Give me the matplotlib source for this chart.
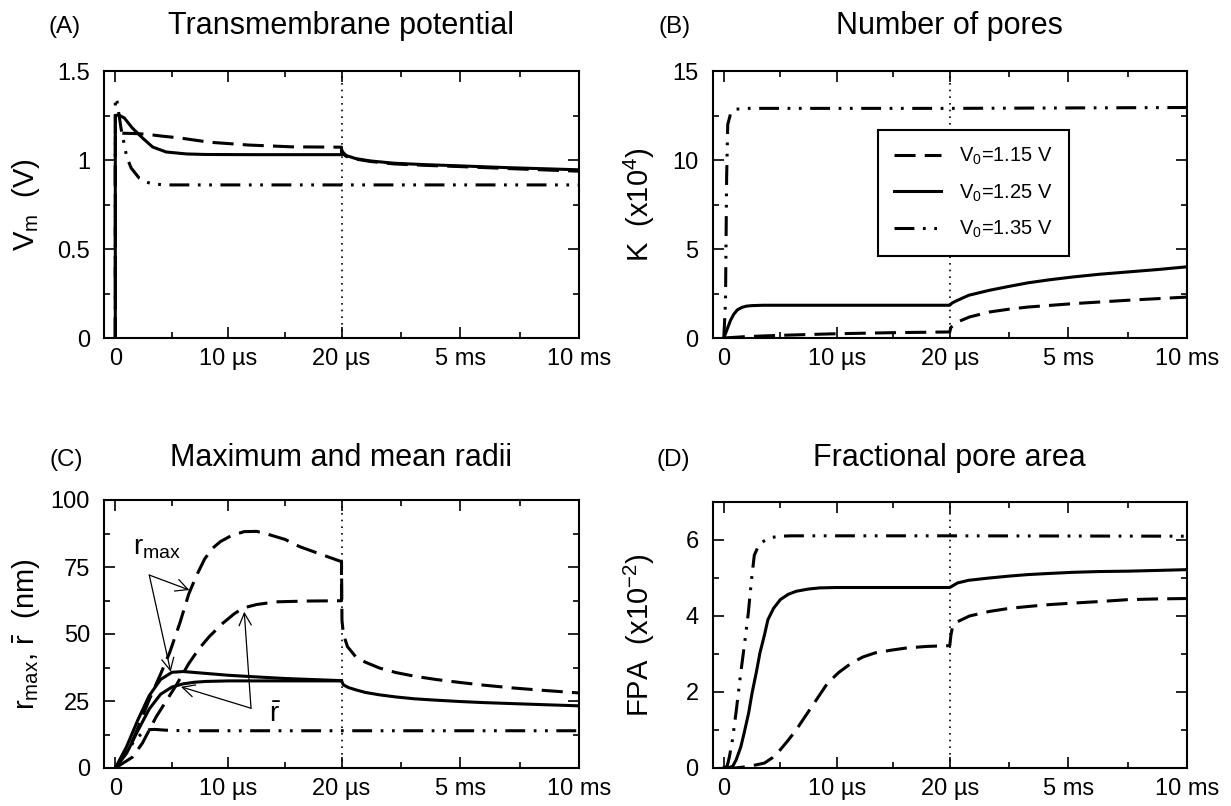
import numpy as np
import matplotlib
matplotlib.use("Agg")
import matplotlib.pyplot as plt

plt.rcParams["font.family"] = "Liberation Sans"
plt.rcParams["mathtext.fontset"] = "custom"
plt.rcParams["mathtext.rm"] = "Liberation Sans"
plt.rcParams["mathtext.it"] = "Liberation Sans:italic"
plt.rcParams["mathtext.bf"] = "Liberation Sans:bold"

## data : pulse part in microseconds, after the pulse in ms (from end of pulse)
# (A) transmembrane potential (V)
a115_t = [0, 0, 0.5, 1, 2, 3, 4, 5.7, 8.3, 11.8, 15.6, 20]
a115_v = [0, 1.15, 1.15, 1.15, 1.148, 1.143, 1.135, 1.124, 1.10, 1.084, 1.074, 1.072]
a115_ms = [0, 0.05, 0.2, 0.6, 1.2, 2.2, 3.5, 5, 7, 10]
a115_vp = [1.05, 1.035, 1.02, 1.005, 0.992, 0.978, 0.97, 0.963, 0.952, 0.937]

a125_t = [0, 0, 0.3, 0.8, 1.5, 2.4, 3.3, 4.5, 6.3, 8, 12, 20]
a125_v = [0, 1.25, 1.253, 1.236, 1.18, 1.124, 1.073, 1.045, 1.034, 1.031, 1.03, 1.03]
a125_ms = [0, 0.05, 0.2, 0.6, 1.2, 2.2, 3.5, 5, 7, 10]
a125_vp = [1.06, 1.045, 1.025, 1.008, 0.995, 0.982, 0.974, 0.967, 0.957, 0.945]

a135_t = [0, 0, 0.15, 0.5, 1.0, 1.4, 2.1, 2.8, 3.3, 4.5, 20]
a135_v = [0, 1.35, 1.33, 1.18, 1.02, 0.955, 0.899, 0.875, 0.865, 0.86, 0.86]
a135_ms = [0, 10]
a135_vp = [0.86, 0.86]

# (B) number of pores (x10^4)
b115_t = [0, 2, 5, 10, 15, 20]
b115_v = [0, 0.08, 0.15, 0.24, 0.3, 0.34]
b115_ms = [0, 0.05, 0.33, 0.83, 1.67, 2.5, 3.3, 5.2, 7.5, 10]
b115_vp = [0.34, 0.6, 0.9, 1.18, 1.46, 1.62, 1.74, 1.93, 2.12, 2.3]

b125_t = [0, 0.3, 0.6, 0.9, 1.2, 1.6, 2.0, 2.5, 3.5, 5, 10, 20]
b125_v = [0, 0.5, 1.0, 1.35, 1.58, 1.72, 1.79, 1.82, 1.84, 1.84, 1.84, 1.84]
b125_ms = [0, 0.1, 0.33, 0.8, 1.67, 2.5, 3.3, 4.2, 5.2, 6.3, 7.5, 8.8, 10]
b125_vp = [1.84, 1.97, 2.12, 2.4, 2.68, 2.9, 3.1, 3.27, 3.43, 3.58, 3.71, 3.85, 4.0]

b135_t = [0, 0.15, 0.25, 0.35, 0.6, 1.0, 2, 20]
b135_v = [0, 2, 9, 12.0, 12.6, 12.85, 12.9, 12.9]
b135_ms = [0, 10]
b135_vp = [12.9, 12.95]

# (C) maximum and mean radii (nm)
c115max_t = [0, 1.3, 2.0, 3.0, 4.0, 4.8, 5.7, 6.5, 7.2, 7.9, 8.6, 9.3, 10.3, 11.4,
             12.5, 13.5, 15, 16.3, 18, 20]
c115max_v = [0, 8, 15, 25.5, 35, 43, 54, 65, 72, 78, 82, 84.5, 86.8, 88.2,
             88.3, 87.2, 85.3, 82.6, 80, 77]
c115mean_t = [0, 1.5, 2.4, 3.6, 4.5, 5.4, 6.5, 7.4, 8.3, 9.5, 10.5, 11.3, 12.5, 14.2, 17, 20]
c115mean_v = [0, 4, 9.3, 19, 25, 31, 39, 44.5, 49, 54, 57.5, 59.7, 61, 62, 62.3, 62.4]
c115_ms = [0, 0.02, 0.08, 0.25, 0.59, 1.0, 1.6, 2.3, 3.1, 4, 5, 6, 7.3, 8.6, 10]
c115_vp = [77, 55, 50, 45.3, 41.6, 39.5, 37.3, 35.6, 34.2, 33, 31.9, 30.9, 29.8, 28.9, 28]

c125max_t = [0, 1, 2, 3, 4, 5, 6, 8, 10, 12, 15, 20]
c125max_v = [0, 8, 18, 27, 33, 35.7, 36, 35.3, 34.6, 34.1, 33.4, 32.6]
c125mean_t = [0, 1, 2, 3, 4, 5, 6, 7, 8, 10, 14, 20]
c125mean_v = [0, 5.5, 14, 22, 27.5, 30.2, 31.4, 32, 32.3, 32.5, 32.5, 32.5]
c125_ms = [0, 0.08, 0.3, 0.59, 1.0, 1.6, 2.3, 3.1, 4, 5, 6, 7.3, 8.6, 10]
c125_vp = [32.6, 31, 30, 29.2, 28.2, 27.3, 26.5, 25.8, 25.3, 24.8, 24.4, 24, 23.6, 23.2]

c135_t = [0, 1, 1.5, 2, 2.5, 3, 3.5, 4.5, 6, 20]
c135_v = [0, 6, 9, 11.5, 13.5, 14.3, 14.4, 14.1, 13.9, 13.9]
c135_ms = [0, 10]
c135_vp = [13.9, 13.9]

# (D) fractional pore area (x10^-2)
d115_t = [0, 1, 2.2, 3.6, 4.3, 5.0, 5.7, 6.4, 7.1, 7.8, 8.5, 9.2, 10.2, 11.3, 12.3,
          13.4, 14.8, 16.2, 18, 20]
d115_v = [0, 0, 0.04, 0.13, 0.27, 0.48, 0.73, 1.0, 1.31, 1.62, 1.93, 2.24, 2.52, 2.76,
          2.92, 3.03, 3.1, 3.16, 3.2, 3.22]
d115_ms = [0, 0.05, 0.12, 0.33, 0.83, 1.67, 2.5, 3.3, 4.2, 5.2, 6.3, 7.5, 8.8, 10]
d115_vp = [3.22, 3.5, 3.73, 3.85, 4.0, 4.12, 4.2, 4.25, 4.3, 4.34, 4.38, 4.43, 4.45, 4.46]

d125_t = [0, 0.4, 0.8, 1.1, 1.5, 1.8, 2.2, 2.5, 2.9, 3.2, 3.6, 3.9, 4.4, 5.0, 5.7,
          6.4, 7.5, 8.5, 10, 20]
d125_v = [0, 0, 0.05, 0.22, 0.55, 0.92, 1.45, 1.97, 2.55, 3.03, 3.5, 3.9, 4.2, 4.43,
          4.57, 4.65, 4.71, 4.74, 4.75, 4.75]
d125_ms = [0, 0.33, 0.8, 1.67, 2.5, 3.3, 4.2, 5.2, 6.3, 7.5, 8.8, 10]
d125_vp = [4.75, 4.87, 4.94, 5.0, 5.05, 5.09, 5.12, 5.15, 5.17, 5.18, 5.2, 5.22]

d135_t = [0, 0.3, 0.5, 0.77, 1.1, 1.5, 1.85, 2.17, 2.45, 2.7, 3.0, 3.3, 3.8, 4.3, 5, 6, 20]
d135_v = [0, 0.05, 0.3, 0.75, 1.5, 2.5, 3.3, 4.08, 4.95, 5.6, 5.8, 5.92, 6.02, 6.07,
          6.1, 6.11, 6.11]
d135_ms = [0, 10]
d135_vp = [6.11, 6.1]

xticks = [0, 10, 20, 5020, 10020]
xticklabels = ["0", "10 \u00b5s", "20 \u00b5s", "5 ms", "10 ms"]
legend_labels = ["V$_\\mathrm{0}$=1.15 V", "V$_\\mathrm{0}$=1.25 V", "V$_\\mathrm{0}$=1.35 V"]

## styles
LW = 2.2
DASH = (0, (6.9, 3.0))
DASHDOT = (0, (6.5, 2.8, 0.9, 2.8, 0.9, 2.8))
SOLID = "-"


def post(ms):  # time after the pulse -> microseconds
    return 20 + np.asarray(ms, float) * 1000


def fwd(t):  # broken axis : 0-20 us then 20 us - 10 ms, same width
    t = np.asarray(t, float)
    return np.where(t <= 20, (t + 1) / 21.0, 1 + (t - 20) / 10000.0)


def inv(x):
    x = np.asarray(x, float)
    return np.where(x <= 1, x * 21 - 1, 20 + (x - 1) * 10000)


W, H = 1231, 806
fig = plt.figure(figsize=(W / 100, H / 100), dpi=100)


def make_ax(l, r, top, bot):
    return fig.add_axes([l / W, 1 - bot / H, (r - l) / W, (bot - top) / H])


axA = make_ax(104, 579, 71, 338)
axB = make_ax(712.5, 1187, 71, 338)
axC = make_ax(104, 579, 500, 768)
axD = make_ax(712.5, 1187, 502, 768)


def style(ax, ymax, ymajor, yminor, ylabel, labx):
    ax.set_xscale("function", functions=(fwd, inv))
    ax.set_xlim(-1, 10020)
    ax.set_ylim(0, ymax)
    ax.set_xticks(xticks)
    ax.set_xticklabels(xticklabels)
    ax.set_xticks([5, 15, 2520, 7520], minor=True)
    ax.set_yticks(ymajor)
    ax.set_yticks(yminor, minor=True)
    ax.tick_params(which="both", direction="in", top=True, right=True, width=1.2,
                   labelsize=17)
    ax.tick_params(which="major", length=8)
    ax.tick_params(which="minor", length=4)
    ax.tick_params(axis="x", pad=7.5)
    ax.tick_params(axis="y", pad=10)
    for s in ax.spines.values():
        s.set_linewidth(1.5)
    ax.axvline(20, color="k", lw=1.2, ls=(0, (1, 3)), zorder=1)
    ax.set_ylabel(ylabel, fontsize=21)
    ax.yaxis.set_label_coords(labx, 0.5)


def curve(ax, t, v, ms, vp, ls):
    x = np.concatenate([np.asarray(t, float), post(ms)])
    y = np.concatenate([v, vp])
    return ax.plot(x, y, color="k", lw=LW, ls=ls)[0]


## (A)
curve(axA, a135_t, a135_v, a135_ms, a135_vp, DASHDOT)
curve(axA, a115_t, a115_v, a115_ms, a115_vp, DASH)
curve(axA, a125_t, a125_v, a125_ms, a125_vp, SOLID)
style(axA, 1.5, [0, 0.5, 1, 1.5], [0.25, 0.75, 1.25], "V$_\\mathrm{m}$  (V)", -0.13)
axA.set_yticklabels(["0", "0.5", "1", "1.5"])

## (B)
l135 = curve(axB, b135_t, b135_v, b135_ms, b135_vp, DASHDOT)
l115 = curve(axB, b115_t, b115_v, b115_ms, b115_vp, DASH)
l125 = curve(axB, b125_t, b125_v, b125_ms, b125_vp, SOLID)
style(axB, 15, [0, 5, 10, 15], [2.5, 7.5, 12.5], "K  (x10$^\\mathrm{4}$)", -0.117)
leg = axB.legend([l115, l125, l135], legend_labels, loc="upper left",
                 bbox_to_anchor=(0.349, 0.779), fancybox=False, edgecolor="k",
                 framealpha=1, fontsize=14.5, handlelength=2.3, handletextpad=0.9,
                 borderpad=0.8, labelspacing=0.75, borderaxespad=0)
leg.get_frame().set_linewidth(1.5)

## (C)
axC.plot(c115max_t, c115max_v, color="k", lw=LW, ls=DASH)
curve(axC, c115mean_t, c115mean_v, c115_ms, c115_vp, DASH)
axC.plot(c125max_t, c125max_v, color="k", lw=LW, ls=SOLID)
curve(axC, c125mean_t, c125mean_v, c125_ms, c125_vp, SOLID)
curve(axC, c135_t, c135_v, c135_ms, c135_vp, DASHDOT)
style(axC, 100, [0, 25, 50, 75, 100], [12.5, 37.5, 62.5, 87.5],
      "r$_\\mathrm{max}$, $\\bar{\\mathrm{r}}$  (nm)", -0.13)

arrow = dict(arrowstyle="->", lw=0.9, color="k", shrinkA=0, shrinkB=0, mutation_scale=22)
rmax_from = (3.0, 72)
rmax_to = [(6.55, 66.4), (4.9, 35.9)]
rbar_from = (12.0, 22.3)
rbar_to = [(11.4, 58.3), (5.8, 30.3)]
for p in rmax_to:
    axC.annotate("", xy=p, xytext=rmax_from, arrowprops=arrow)
for p in rbar_to:
    axC.annotate("", xy=p, xytext=rbar_from, arrowprops=arrow)
axC.text(1.6, 79.5, "r$_\\mathrm{max}$", fontsize=20, va="baseline")
axC.text(13.6, 17.2, "$\\bar{\\mathrm{r}}$", fontsize=20, va="baseline")

## (D)
curve(axD, d135_t, d135_v, d135_ms, d135_vp, DASHDOT)
curve(axD, d115_t, d115_v, d115_ms, d115_vp, DASH)
curve(axD, d125_t, d125_v, d125_ms, d125_vp, SOLID)
style(axD, 7, [0, 2, 4, 6], [1, 3, 5], "FPA  (x10$^\\mathrm{-2}$)", -0.117)

## titles
axA.set_title("Transmembrane potential", fontsize=22, pad=27)
axB.set_title("Number of pores", fontsize=22, pad=27)
axC.set_title("Maximum and mean radii", fontsize=22, pad=24.5)
axD.set_title("Fractional pore area", fontsize=22, pad=26)
for lab, x, y in [("(A)", 49, 33), ("(B)", 658.5, 33), ("(C)", 49.4, 466), ("(D)", 656.5, 466)]:
    fig.text(x / W, 1 - y / H, lab, fontsize=17.5, va="baseline")

plt.savefig("out.png", dpi=100)
